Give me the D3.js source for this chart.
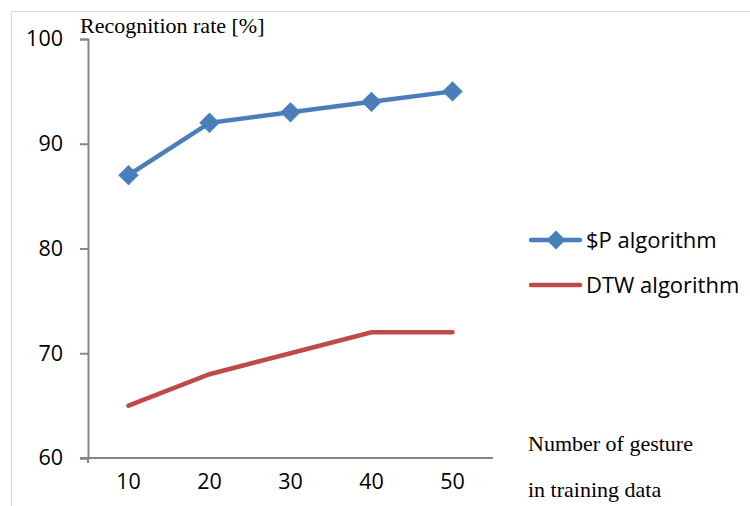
<!DOCTYPE html>
<html><head><meta charset="utf-8">
<script src="https://cdn.jsdelivr.net/npm/d3@7"></script>
<style>body{margin:0;background:#fff}</style>
</head><body>
<svg id="c" width="750" height="506"></svg>
<script>
const categories = ["10","20","30","40","50"];
const spValues = [87, 92, 93, 94, 95];
const dtwValues = [65, 68, 70, 72, 72];
const yTicks = [60, 70, 80, 90, 100];
const seriesNames = ["$P algorithm", "DTW algorithm"];

const svg = d3.select("#c");
const sans = "'Open Sans', 'Noto Sans', sans-serif";
const serif = "'Liberation Serif', 'DejaVu Serif', serif";
const axisColor = "#868686";

// outer border
svg.append("line").attr("x1",11).attr("x2",750).attr("y1",11.5).attr("y2",11.5).attr("stroke","#d9d9d9").attr("stroke-width",1);
svg.append("line").attr("x1",11.5).attr("x2",11.5).attr("y1",11).attr("y2",506).attr("stroke","#d9d9d9").attr("stroke-width",1);

const x0 = 88, x1 = 493, yTop = 39, yBot = 458;
const x = d3.scaleBand().domain(categories).range([x0, x1]);
const y = d3.scaleLinear().domain([60, 100]).range([yBot, yTop]);

// y axis
const ya = svg.append("g").attr("transform",`translate(${x0},0)`)
  .call(d3.axisLeft(y).tickValues(yTicks).tickSize(8).tickPadding(17).tickFormat(d3.format("d")));
ya.select(".domain").attr("stroke",axisColor).attr("stroke-width",2);
ya.selectAll(".tick line").attr("stroke",axisColor).attr("stroke-width",2);
ya.selectAll(".tick text").attr("font-family",sans).attr("font-size",21.5).attr("fill","#000");

// x axis
const xa = svg.append("g").attr("transform",`translate(0,${yBot})`)
  .call(d3.axisBottom(x).tickSize(0).tickPadding(16));
xa.select(".domain").remove();
svg.append("line").attr("x1",80).attr("x2",x1).attr("y1",yBot).attr("y2",yBot).attr("stroke",axisColor).attr("stroke-width",2);
svg.append("line").attr("x1",x0).attr("x2",x0).attr("y1",yBot).attr("y2",yBot+5).attr("stroke",axisColor).attr("stroke-width",2);
xa.selectAll(".tick text").attr("font-family",sans).attr("font-size",21.5).attr("fill","#000");

const cx = d => x(d) + x.bandwidth()/2;
const line = d3.line().x(d => cx(d.c)).y(d => y(d.v));
const sp = categories.map((c,i)=>({c, v: spValues[i]}));
const dtw = categories.map((c,i)=>({c, v: dtwValues[i]}));

svg.append("path").datum(dtw).attr("d",line).attr("fill","none").attr("stroke","#be4b48").attr("stroke-width",4.5).attr("stroke-linecap","round");
svg.append("path").datum(sp).attr("d",line).attr("fill","none").attr("stroke","#4a7ebb").attr("stroke-width",4.5).attr("stroke-linecap","round");
svg.selectAll(".mk").data(sp).join("path").attr("class","mk")
  .attr("transform", d => `translate(${cx(d.c)},${y(d.v)}) rotate(45)`)
  .attr("d", d3.symbol().type(d3.symbolSquare).size(180))
  .attr("fill","#4a7ebb").attr("stroke","#4a7ebb").attr("stroke-width",1);

// title
svg.append("text").attr("x",80).attr("y",33).attr("font-family",serif).attr("font-size",22).text("Recognition rate [%]");

// legend
const lg = [{n:seriesNames[0], col:"#4a7ebb", y:240, mk:true},{n:seriesNames[1], col:"#be4b48", y:285, mk:false}];
lg.forEach(l=>{
  svg.append("line").attr("x1",531).attr("x2",580).attr("y1",l.y).attr("y2",l.y).attr("stroke",l.col).attr("stroke-width",4.5).attr("stroke-linecap","round");
  if(l.mk) svg.append("path").attr("transform",`translate(556,${l.y}) rotate(45)`).attr("d",d3.symbol().type(d3.symbolSquare).size(180)).attr("fill",l.col);
  svg.append("text").attr("x",586).attr("y",l.y+7.5).attr("font-family",sans).attr("font-size",22).text(l.n);
});

// x axis title
svg.append("text").attr("x",528).attr("y",451).attr("font-family",serif).attr("font-size",22).text("Number of gesture");
svg.append("text").attr("x",528).attr("y",497).attr("font-family",serif).attr("font-size",22).text("in training data");
</script>
</body></html>
